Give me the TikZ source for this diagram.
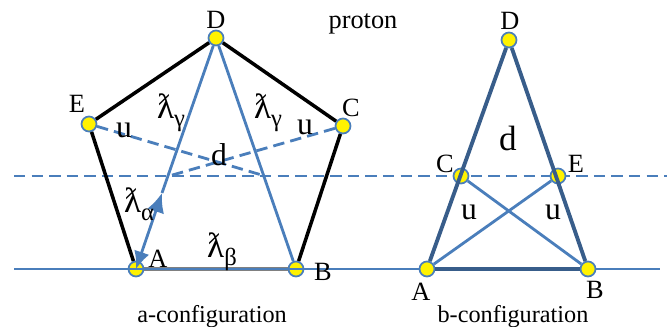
\documentclass[tikz,border=0pt]{standalone}
\usepackage{fontspec}
\setmainfont{Liberation Serif}
\usepackage{tikz}
\usetikzlibrary{arrows.meta}
\definecolor{lineblue}{HTML}{4A7EBB}
\definecolor{darkblue}{HTML}{385D8A}
\newcommand{\lamsub}[1]{{\fontsize{20}{22}\selectfont ƛ}\raisebox{-0.7ex}{\fontsize{14}{15}\selectfont #1}}
\tikzset{
	vertex/.style={circle, draw=lineblue, fill=yellow, line width=1pt, minimum size=0.3cm, inner sep=0pt},
	lab/.style={font=\fontsize{15}{17}\selectfont, inner sep=0pt},
	quark/.style={font=\fontsize{18}{20}\selectfont, inner sep=0pt},
	caption/.style={font=\fontsize{13.8}{15}\selectfont, inner sep=0pt},
	bluesolid/.style={lineblue, line width=1.6pt},
	bluedash/.style={lineblue, line width=1.6pt, dash pattern=on 6.5pt off 3.5pt},
	blackedge/.style={black, line width=2pt},
	darkedge/.style={darkblue, line width=2.2pt},
}
\begin{document}
\begin{tikzpicture}[x=0.02cm, y=-0.02cm]
	\useasboundingbox (0,0) rectangle (667,327);
	% free ends of the two horizontals and of the dashed diagonals
	\coordinate (dashL) at (14,176);
	\coordinate (dashR) at (667,176);
	\coordinate (baseL) at (14,269);
	\coordinate (baseR) at (660,269);
	\coordinate (crossL) at (169,176);
	\coordinate (crossR) at (265,176);
	\coordinate (tip) at (162,193);
	\draw[bluedash] (dashL) -- (dashR);
	% a-configuration and b-configuration vertices
	\foreach \n/\x/\y in {aD/216/38, aE/89/124, aC/343/126, aA/136/269, aB/296/269, bD/509/40, bC/461/176, bE/558/176, bA/427/269, bB/588/269} {
		\node[vertex] (\n) at (\x,\y) {};
	}
	\draw[blackedge] (aD) -- (aE);
	\draw[blackedge] (aD) -- (aC);
	\draw[blackedge] (aE) -- (aA);
	\draw[blackedge] (aC) -- (aB);
	\draw[bluedash] (aE) -- (crossR);
	\draw[bluedash] (aC) -- (crossL);
	\draw[bluesolid] (aD) -- (aB);
	\draw[bluesolid] (aD) -- (tip);
	\draw[gray, line width=2pt] (aA) -- (aB);
	\draw[bluesolid, {Latex[length=10pt, width=9pt]}-{Latex[length=11pt, width=10pt]}] (aA.center) -- (tip);
	\draw[darkedge] (bD) -- (bA);
	\draw[darkedge] (bD) -- (bB);
	\draw[darkedge] (bA) -- (bB);
	\draw[bluesolid] (bC) -- (bB);
	\draw[bluesolid] (bE) -- (bA);
	\draw[bluesolid] (baseL) -- (bA);
	\draw[bluesolid] (bB) -- (baseR);
	\foreach \n/\x/\y/\t in {laD/216/20/D, laE/77/104/E, laC/351/108/C, laA/158/259/A, laB/323/272/B, lbD/510/21/D, lbC/445/164/C, lbE/576/164/E, lbA/421/292/A, lbB/595/290/B} {
		\node[lab] (\n) at (\x,\y) {\t};
	}
	\foreach \n/\x/\y/\t in {uaL/124/130/u, uaR/305/127/u, daM/219/155/d, ubL/469/212/u, ubR/553/212/u} {
		\node[quark] (\n) at (\x,\y) {\t};
	}
	\node[lab, font=\fontsize{20}{22}\selectfont] (dbM) at (508,138) {d};
	\node[lab] (proton) at (363,24) {proton};
	\node[lab] (lamgL) at (171,113) {\lamsub{γ}};
	\node[lab] (lamgR) at (268,113) {\lamsub{γ}};
	\node[lab] (lama) at (139,204) {\lamsub{α}};
	\node[lab] (lamb) at (222,252) {\lamsub{β}};
	\node[caption] (capA) at (212,317) {a-configuration};
	\node[caption] (capB) at (513,317) {b-configuration};
\end{tikzpicture}
\end{document}
